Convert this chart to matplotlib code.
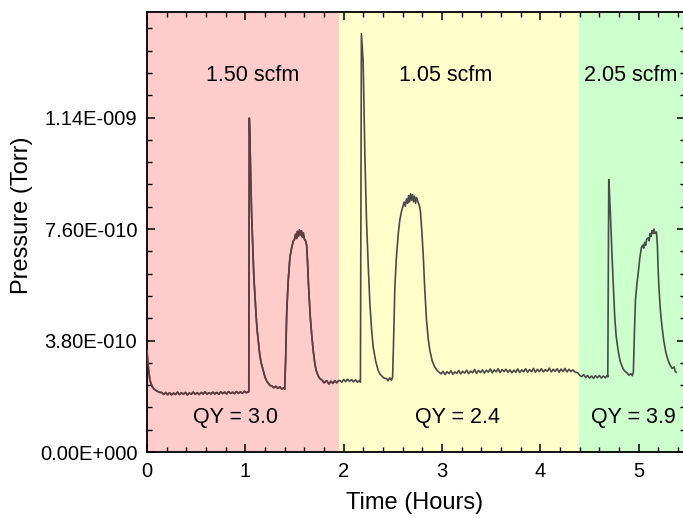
import matplotlib
matplotlib.use("Agg")
import matplotlib.pyplot as plt
from matplotlib.ticker import MultipleLocator, FixedLocator
from matplotlib.patches import Rectangle

plt.rcParams['font.family'] = ['Liberation Sans', 'DejaVu Sans']

# Time (hours) and pressure (units of 1e-10 Torr)
time_h = [
    # initial decay
    0.00, 0.01, 0.02, 0.03, 0.05, 0.07, 0.10, 0.13,
    # red baseline
    0.15, 0.17, 0.19, 0.21, 0.23, 0.25, 0.27, 0.29, 0.31, 0.33, 0.35, 0.37, 0.39, 0.41, 0.43,
    0.45, 0.47, 0.49, 0.51, 0.53, 0.55, 0.57, 0.59, 0.61, 0.63, 0.65, 0.67, 0.69, 0.71, 0.73,
    0.75, 0.77, 0.79, 0.81, 0.83, 0.85, 0.87, 0.89, 0.91, 0.93, 0.95, 0.97, 0.99, 1.01, 1.03,
    # spike 1
    1.035, 1.040, 1.047, 1.055, 1.064, 1.075, 1.086, 1.098, 1.11, 1.12, 1.131, 1.145, 1.16,
    1.182, 1.20, 1.22, 1.25, 1.27, 1.29, 1.31, 1.33, 1.35, 1.37, 1.39, 1.40,
    # plateau 1
    1.41, 1.42, 1.435, 1.453, 1.47, 1.487, 1.50, 1.51, 1.52, 1.53, 1.54, 1.55, 1.56, 1.57,
    1.58, 1.589, 1.60, 1.612, 1.623, 1.632, 1.64, 1.65, 1.66, 1.674, 1.69, 1.707, 1.72, 1.74,
    1.758, 1.78, 1.80, 1.826, 1.85, 1.87, 1.89, 1.91, 1.93, 1.944,
    # yellow baseline before spike
    1.96, 1.98, 2.00, 2.02, 2.04, 2.06, 2.08, 2.10, 2.12, 2.14, 2.16, 2.17,
    # spike 2
    2.18, 2.198, 2.215, 2.232, 2.25, 2.266, 2.283, 2.30, 2.325, 2.35, 2.37, 2.39, 2.41, 2.436,
    2.45, 2.47, 2.485, 2.497,
    # plateau 2
    2.505, 2.52, 2.535, 2.554, 2.57, 2.588, 2.60, 2.615, 2.625, 2.639, 2.65, 2.66, 2.67, 2.68,
    2.69, 2.70, 2.71, 2.72, 2.73, 2.74, 2.758, 2.77, 2.78, 2.795, 2.808, 2.825, 2.842, 2.86,
    2.876, 2.90, 2.927, 2.95, 2.97,
    # long yellow baseline
    2.99, 3.01, 3.03, 3.05, 3.07, 3.09, 3.11, 3.13, 3.15, 3.17, 3.19, 3.21, 3.23, 3.25, 3.27,
    3.29, 3.31, 3.33, 3.35, 3.37, 3.39, 3.41, 3.43, 3.45, 3.47, 3.49, 3.51, 3.53, 3.55, 3.57,
    3.59, 3.61, 3.63, 3.65, 3.67, 3.69, 3.71, 3.73, 3.75, 3.77, 3.79, 3.81, 3.83, 3.85, 3.87,
    3.89, 3.91, 3.93, 3.95, 3.97, 3.99, 4.01, 4.03, 4.05, 4.07, 4.09, 4.11, 4.13, 4.15, 4.17,
    4.19, 4.21, 4.23, 4.25, 4.27, 4.29, 4.31, 4.33, 4.35,
    # green baseline
    4.38, 4.40, 4.42, 4.44, 4.46, 4.48, 4.50, 4.52, 4.54, 4.56, 4.58, 4.60, 4.62, 4.64, 4.66,
    4.68, 4.685,
    # spike 3
    4.695, 4.70, 4.713, 4.733, 4.745, 4.756, 4.77, 4.79, 4.81, 4.84, 4.86, 4.88, 4.90, 4.92,
    4.935, 4.945,
    # plateau 3
    4.955, 4.966, 4.98, 4.993, 5.01, 5.027, 5.04, 5.05, 5.06, 5.07, 5.08, 5.094, 5.105, 5.115,
    5.125, 5.135, 5.145, 5.155, 5.165, 5.18, 5.19, 5.196, 5.205, 5.22, 5.235, 5.254, 5.275,
    5.298, 5.32, 5.34, 5.36, 5.37, 5.38,
]
pressure_e10 = [
    3.46, 3.00, 2.70, 2.44, 2.25, 2.15, 2.08, 2.03,
    2.03, 1.96, 2.03, 1.95, 2.02, 1.95, 2.01, 1.96, 2.04, 1.96, 2.02, 1.97, 2.03, 1.95, 2.01,
    1.97, 2.04, 1.97, 2.02, 1.96, 2.03, 1.98, 2.05, 1.97, 2.02, 1.98, 2.04, 1.98, 2.03, 1.97,
    2.05, 1.99, 2.04, 1.98, 2.06, 2.00, 2.04, 1.99, 2.06, 2.00, 2.05, 2.00, 2.07, 2.02, 2.05,
    2.05, 11.38, 10.6, 9.3, 8.10, 7.0, 6.0, 5.27, 4.6, 4.15, 3.80, 3.35, 3.05,
    2.78, 2.55, 2.40, 2.27, 2.25, 2.19, 2.24, 2.17, 2.22, 2.15, 2.19, 2.14,
    3.2, 4.70, 5.8, 6.63, 6.95, 7.19, 7.25, 7.42, 7.28, 7.52, 7.36, 7.57, 7.40, 7.54,
    7.33, 7.47, 7.26, 7.20, 7.05, 6.5, 5.84, 5.2, 4.6, 4.03, 3.45, 3.01, 2.78, 2.60,
    2.50, 2.45, 2.36, 2.43, 2.32, 2.41, 2.34, 2.43, 2.36, 2.42,
    2.44, 2.38, 2.47, 2.40, 2.48, 2.41, 2.47, 2.39, 2.46, 2.38, 2.44, 2.38,
    14.26, 13.3, 10.13, 7.87, 6.3, 5.05, 4.2, 3.57, 3.1, 2.78, 2.65, 2.58, 2.52, 2.50,
    2.43, 2.53, 2.45, 2.55,
    3.5, 5.61, 6.6, 7.42, 7.9, 8.21, 8.35, 8.52, 8.38, 8.63, 8.48, 8.74, 8.53, 8.80,
    8.58, 8.77, 8.53, 8.72, 8.48, 8.67, 8.50, 8.40, 8.21, 7.5, 6.74, 5.5, 4.48, 3.85,
    3.46, 3.10, 2.89, 2.78, 2.72,
    2.66, 2.75, 2.64, 2.74, 2.67, 2.77, 2.65, 2.73, 2.68, 2.78, 2.66, 2.75, 2.69, 2.79, 2.67,
    2.76, 2.70, 2.81, 2.68, 2.78, 2.71, 2.80, 2.69, 2.79, 2.72, 2.83, 2.70, 2.80, 2.73, 2.84,
    2.71, 2.81, 2.74, 2.82, 2.72, 2.80, 2.70, 2.79, 2.72, 2.83, 2.71, 2.80, 2.73, 2.84, 2.72,
    2.81, 2.74, 2.85, 2.72, 2.82, 2.74, 2.84, 2.73, 2.81, 2.75, 2.86, 2.73, 2.82, 2.75, 2.84,
    2.72, 2.83, 2.74, 2.85, 2.73, 2.82, 2.74, 2.80, 2.73,
    2.70, 2.61, 2.57, 2.64, 2.54, 2.61, 2.52, 2.59, 2.51, 2.60, 2.53, 2.61, 2.52, 2.59, 2.53,
    2.61, 2.56,
    9.29, 9.0, 7.98, 6.29, 5.4, 4.59, 3.95, 3.46, 3.10, 2.84, 2.75, 2.70, 2.62, 2.67,
    2.60, 2.72,
    4.0, 5.16, 5.7, 6.06, 6.6, 6.97, 7.05, 6.95, 7.15, 7.05, 7.25, 7.30, 7.20, 7.45,
    7.35, 7.55, 7.45, 7.60, 7.45, 7.50, 7.0, 6.29, 5.6, 4.82, 4.3, 3.80, 3.40,
    3.12, 2.95, 2.85, 2.90, 2.75, 2.72,
]

# Flow regions
region_starts = [0.0, 1.95, 4.39]
region_ends = [1.95, 4.39, 5.6]
region_colors = ['#ffcccc', '#ffffcc', '#ccffcc']
flow_labels = ['1.50 scfm', '1.05 scfm', '2.05 scfm']
flow_x = [1.07, 3.04, 4.92]
qy_labels = ['QY = 3.0', 'QY = 2.4', 'QY = 3.9']
qy_x = [0.90, 3.16, 4.95]

ytick_vals = [0.0, 3.8e-10, 7.6e-10, 1.14e-9]
ytick_labels = ['0.00E+000', '3.80E-010', '7.60E-010', '1.14E-009']

pressure = [p * 1e-10 for p in pressure_e10]

fig = plt.figure(figsize=(6.83, 5.18), dpi=100)
ax = fig.add_axes([147/683, 66/518, 538/683, 440/518])

for s, e, c in zip(region_starts, region_ends, region_colors):
    ax.axvspan(s, e, color=c, lw=0, zorder=0)

ax.plot(time_h, pressure, color='#4a4a4a', lw=1.2, zorder=2)
red_line, = ax.plot(time_h, pressure, color='#5e3e3e', lw=1.2, zorder=3)
clip = Rectangle((region_starts[0], 0), region_ends[0] - region_starts[0], 1,
                 transform=ax.get_xaxis_transform())
red_line.set_clip_path(clip)

for lbl, x in zip(flow_labels, flow_x):
    ax.text(x, 1.285e-9, lbl, ha='center', va='center', fontsize=15.5)
for lbl, x in zip(qy_labels, qy_x):
    ax.text(x, 1.19e-10, lbl, ha='center', va='center', fontsize=15.5)

ax.set_xlim(0, 5.47)
ax.set_ylim(0, 1.5e-9)
ax.xaxis.set_major_locator(MultipleLocator(1))
ax.xaxis.set_minor_locator(MultipleLocator(0.2))
ax.yaxis.set_major_locator(FixedLocator(ytick_vals))
ax.set_yticklabels(ytick_labels)
ax.yaxis.set_minor_locator(MultipleLocator(7.6e-11))
ax.tick_params(which='both', direction='in', top=True, right=True, labelsize=14.5, pad=7)
ax.tick_params(which='major', length=6, width=1.1)
ax.tick_params(which='minor', length=3.5, width=1.0)
for sp in ax.spines.values():
    sp.set_linewidth(1.3)

ax.set_xlabel('Time (Hours)', fontsize=17, va='center')
ax.set_ylabel('Pressure (Torr)', fontsize=17, va='center')
ax.xaxis.set_label_coords((415 - 147) / 538, (452 - 503) / 440)
ax.yaxis.set_label_coords((22 - 147) / 538, (452 - 215) / 440)

fig.savefig('out.png', dpi=100)
